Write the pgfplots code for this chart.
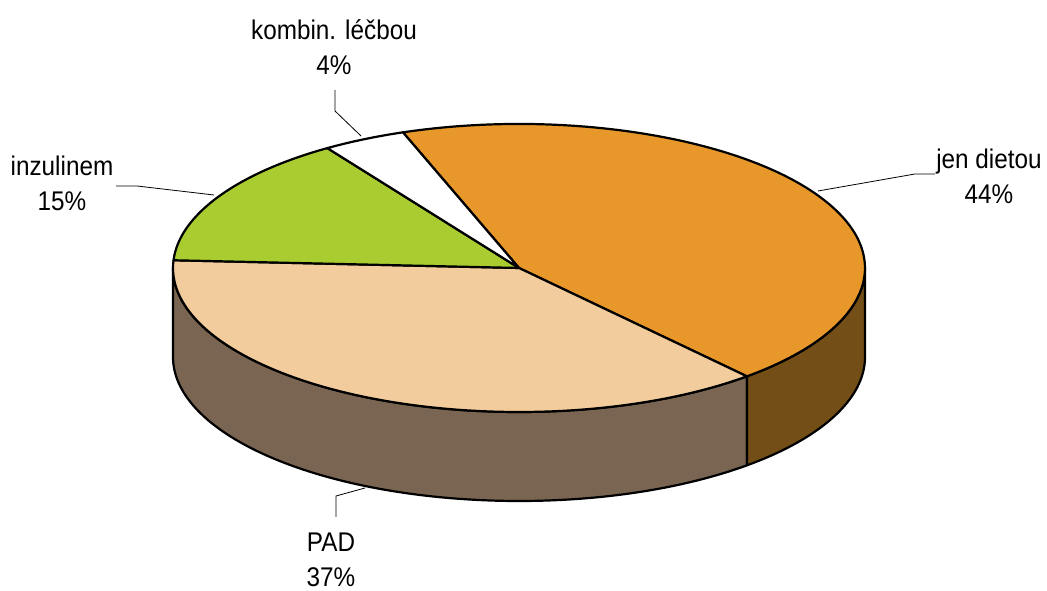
\documentclass[border=0pt]{standalone}
\usepackage{pgfplots}
\pgfplotsset{compat=1.18}
\usepackage{pgfplotstable}
\usepackage{fontspec}
\setmainfont{Liberation Sans}[FakeStretch=0.9]

\definecolor{cJen}{HTML}{E8982A}
\definecolor{cJenSide}{HTML}{734E16}
\definecolor{cPAD}{HTML}{F2CC9C}
\definecolor{cPADSide}{HTML}{7A6552}
\definecolor{cInz}{HTML}{A9CC30}
\definecolor{cKomb}{HTML}{FFFFFF}

\pgfplotstableread{
label value
dietou 44.0
PAD 37.3
inzulinem 14.8
kombin 3.9
}\piedata

\pgfplotstablegetelem{0}{value}\of\piedata \let\vA\pgfplotsretval
\pgfplotstablegetelem{1}{value}\of\piedata \let\vB\pgfplotsretval
\pgfplotstablegetelem{2}{value}\of\piedata \let\vC\pgfplotsretval
\pgfplotstablegetelem{3}{value}\of\piedata \let\vD\pgfplotsretval
\pgfmathsetmacro\aZ{109.6}
\pgfmathsetmacro\aA{\aZ-3.6*\vA}
\pgfmathsetmacro\aB{\aA-3.6*\vB}
\pgfmathsetmacro\aC{\aB-3.6*\vC}
\pgfmathsetmacro\aD{\aC-3.6*\vD}

\tikzset{
  ell/.style={x radius=346bp, y radius=144bp},
  slice/.style={draw=black, line width=2.2bp, line join=round},
  lead/.style={draw=black, line width=0.8bp},
  lab/.style={font=\fontsize{27bp}{35bp}\selectfont, align=center, inner sep=0pt}
}

\begin{document}
\begin{tikzpicture}
\begin{axis}[x=1bp, y=1bp, xmin=0, xmax=1047, ymin=0, ymax=591,
  hide axis, clip=false]
\path (axis cs:0,0) (axis cs:1047,591);
% side walls
\filldraw[slice, fill=cPADSide] (axis cs:519,323) ++(-180:346bp and 144bp)
  arc[start angle=-180, end angle=\aA, ell] -- ++(0,-89bp)
  arc[start angle=\aA, end angle=-180, ell] -- cycle;
\filldraw[slice, fill=cJenSide] (axis cs:519,323) ++(\aA:346bp and 144bp)
  arc[start angle=\aA, end angle=0, ell] -- ++(0,-89bp)
  arc[start angle=0, end angle=\aA, ell] -- cycle;
% top slices
\filldraw[slice, fill=cJen] (axis cs:519,323) -- ++(\aZ:346bp and 144bp)
  arc[start angle=\aZ, end angle=\aA, ell] -- cycle;
\filldraw[slice, fill=cPAD] (axis cs:519,323) -- ++(\aA:346bp and 144bp)
  arc[start angle=\aA, end angle=\aB, ell] -- cycle;
\filldraw[slice, fill=cInz] (axis cs:519,323) -- ++(\aB:346bp and 144bp)
  arc[start angle=\aB, end angle=\aC, ell] -- cycle;
\filldraw[slice, fill=cKomb] (axis cs:519,323) -- ++(\aC:346bp and 144bp)
  arc[start angle=\aC, end angle=\aD, ell] -- cycle;
% leader lines
\draw[lead] (axis cs:335,501) -- (axis cs:335,480) -- (axis cs:361,455);
\draw[lead] (axis cs:116,405) -- (axis cs:137,405) -- (axis cs:214,396);
\draw[lead] (axis cs:935,417) -- (axis cs:915,417) -- (axis cs:818,400);
\draw[lead] (axis cs:336,74) -- (axis cs:336,95) -- (axis cs:365,103);
% labels
\node[lab] at (axis cs:334,544) {kombin. léčbou\\4\%};
\node[lab] at (axis cs:62,408) {inzulinem\\15\%};
\node[lab] at (axis cs:989,415) {jen dietou\\44\%};
\node[lab] at (axis cs:331,31) {PAD\\37\%};
\end{axis}
\end{tikzpicture}
\end{document}
